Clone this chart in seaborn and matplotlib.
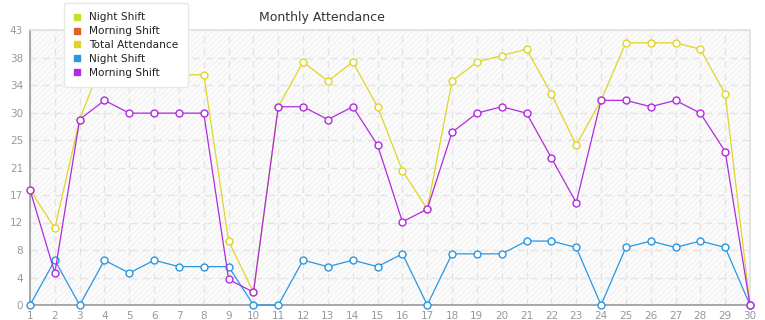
import pandas as pd
import numpy as np
import matplotlib
matplotlib.use("Agg")
import matplotlib.pyplot as plt
from matplotlib.lines import Line2D
import seaborn as sns

# Data
days = list(range(1, 31))
morning_shift = [18, 5, 29, 32, 30, 30, 30, 30, 4, 2, 31, 31, 29, 31, 25,
                 13, 15, 27, 30, 31, 30, 23, 16, 32, 32, 31, 32, 30, 24, 0]
night_shift = [0, 7, 0, 7, 5, 7, 6, 6, 6, 0, 0, 7, 6, 7, 6,
               8, 0, 8, 8, 8, 10, 10, 9, 0, 9, 10, 9, 10, 9, 0]
total_attendance = [m + n for m, n in zip(morning_shift, night_shift)]

legend_labels = ["Night Shift", "Morning Shift", "Total Attendance", "Night Shift", "Morning Shift"]
legend_colors = ["#c4e02a", "#e0622a", "#e0d42a", "#2a96e0", "#b02ae0"]

sns.set_theme(style="white")
plt.rcParams['font.family'] = ['DejaVu Sans']
plt.rcParams['hatch.color'] = '#efefef'
plt.rcParams['hatch.linewidth'] = 0.6

df = pd.DataFrame({
    "day": days * 3,
    "value": total_attendance + night_shift + morning_shift,
    "series": ["Total Attendance"] * 30 + ["Night Shift (b)"] * 30 + ["Morning Shift (b)"] * 30,
})
palette = {"Total Attendance": legend_colors[2],
           "Night Shift (b)": legend_colors[3],
           "Morning Shift (b)": legend_colors[4]}

fig = plt.figure(figsize=(7.65, 3.2), dpi=100)
ax = fig.add_axes([30 / 765, 15 / 320, 720 / 765, 275 / 320])
ax.set_facecolor("#fbfbfb")
ax.patch.set_hatch("//////")
ax.patch.set_edgecolor("#efefef")

sns.lineplot(data=df, x="day", y="value", hue="series", palette=palette, ax=ax,
             marker="o", markersize=5, markerfacecolor="white", markeredgewidth=1.0,
             linewidth=0.9, legend=False, zorder=3)
# marker edges in the line colour
for line in ax.get_lines():
    line.set_markeredgecolor(line.get_color())
    line.set_clip_on(False)

ax.set_xlim(1, 30)
ax.set_ylim(0, 43)
ax.set_xticks(days)
ax.set_xticklabels([str(d) for d in days])
yt = np.arange(11) * 4.3
ax.set_yticks(yt)
ax.set_yticklabels([str(int(v + 1e-9)) for v in yt])
ax.grid(True, color="#e4e4e4", linestyle=(0, (5, 4)), linewidth=1.0)
ax.set_axisbelow(True)
ax.set_xlabel("")
ax.set_ylabel("")
ax.tick_params(axis="both", colors="#999999", labelsize=7.5, length=3, width=1, direction="out")
ax.tick_params(axis="x", pad=1.5)
ax.tick_params(axis="y", pad=2)
for side in ["left", "bottom"]:
    ax.spines[side].set_color("#999999")
    ax.spines[side].set_linewidth(1.2)
for side in ["top", "right"]:
    ax.spines[side].set_color("#e0e0e0")
    ax.spines[side].set_linewidth(1.2)

fig.text(322 / 765, 1 - 17 / 320, "Monthly Attendance", ha="center", va="center",
         fontsize=9, color="#333333")

handles = [Line2D([0], [0], marker="s", color="none", markerfacecolor=c,
                  markeredgecolor=c, markersize=4.5) for c in legend_colors]
leg = fig.legend(handles, legend_labels, loc="upper left",
                 bbox_to_anchor=(64 / 765, 1 - 3 / 320), frameon=True, fontsize=7.6,
                 handlelength=0.7, handletextpad=0.8, labelspacing=0.36,
                 borderpad=0.9, borderaxespad=0, fancybox=True, framealpha=1.0,
                 shadow=False)
leg.get_frame().set_edgecolor("#e8e8e8")
leg.get_frame().set_facecolor("white")
for t in leg.get_texts():
    t.set_color("#222222")
leg.set_zorder(10)

plt.savefig("out.png", dpi=100)
plt.close()
